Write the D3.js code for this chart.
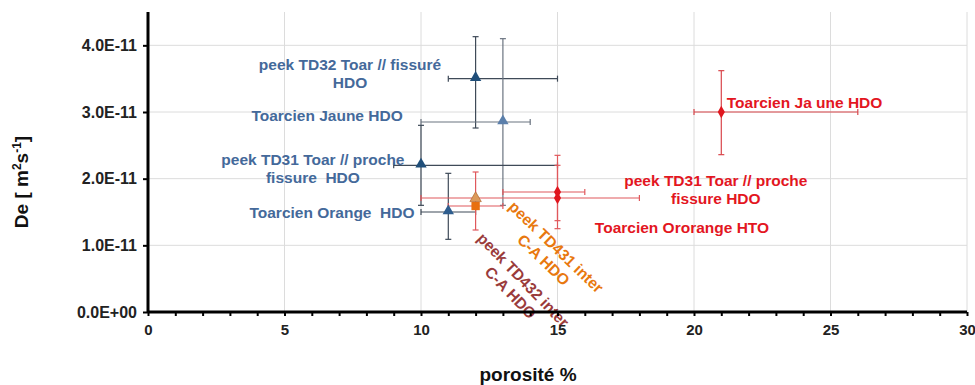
<!DOCTYPE html>
<html>
<head>
<meta charset="utf-8">
<script src="https://cdn.jsdelivr.net/npm/d3@7"></script>
<style>
body{margin:0;background:#fff}
text{font-family:"Liberation Sans",Arial,sans-serif;font-weight:bold;white-space:pre}
</style>
</head>
<body>
<div id="chart"></div>
<script>
// ===== data =====
var names   = ["peek TD32 Toar // fissuré HDO","Toarcien Jaune HDO","peek TD31 Toar // proche fissure HDO",
               "Toarcien Orange HDO","Toarcien Ja une HDO","peek TD31 Toar // proche fissure HDO (rouge)",
               "Toarcien Ororange HTO","peek TD431 inter C-A HDO","peek TD432 inter C-A HDO"];
var poro    = [12, 13, 10, 11, 21, 15, 15, 12, 12];
var poroLo  = [11, 10, 9, 10, 20, 13, 10, 11, null];
var poroHi  = [15, 14, 15, 12, 26, 16, 18, 13, null];
var de      = [3.5e-11, 2.85e-11, 2.2e-11, 1.5e-11, 3.0e-11, 1.8e-11, 1.71e-11, 1.59e-11, 1.69e-11];
var deLo    = [2.76e-11, 1.6e-11, 1.6e-11, 1.09e-11, 2.36e-11, 1.25e-11, 1.37e-11, 1.23e-11, null];
var deHi    = [4.13e-11, 4.1e-11, 2.8e-11, 2.08e-11, 3.62e-11, 2.35e-11, 2.2e-11, 2.1e-11, null];
var shapes  = ["tri","tri","tri","tri","diamond","diamond","diamond","square","tri"];
var fills   = ["#1f4e79","#5b7fab","#1f4e79","#2e5d8e","#e0161e","#e0161e","#e0161e","#e8700e","#dc9a5a"];
var barCols = ["#3f4a58","#6b7480","#3f4a58","#3f4a58","#d9464b","#e0585c","#e0585c","#e0585c",null];

var xTicks = [0,5,10,15,20,25,30];
var yTicks = [0,1e-11,2e-11,3e-11,4e-11];

// labels anchored in data units
var labelLines = [["peek TD32 Toar // fissuré","HDO"],["Toarcien Jaune HDO"],["peek TD31 Toar // proche","fissure  HDO"],
                  ["Toarcien Orange  HDO"],["Toarcien Ja une HDO"],["peek TD31 Toar // proche","fissure HDO"],
                  ["Toarcien Ororange HTO"],["peek TD431 inter","C-A HDO"],["peek TD432 inter","C-A HDO"]];
var labelX  = [7.4, 6.56, 6.04, 6.74, 21.2, 20.8, 19.56, 14.95, 13.75];
var labelY  = [3.71e-11, 2.94e-11, 2.28e-11, 1.485e-11, 3.14e-11, 1.965e-11, 1.26e-11, 0.975e-11, 0.48e-11];
var labelRot = [0,0,0,0,0,0,0,44,46];
var labelAnchor = ["middle","middle","middle","middle","start","middle","middle","middle","middle"];
var labelCols = ["#44699a","#44699a","#44699a","#44699a","#e3161f","#e3161f","#e3161f","#e8780f","#9a3b3b"];

// ===== chart =====
var W = 975, H = 385;
var mLeft = 148, mRight = 967, mTop = 12, mBottom = 312;

var svg = d3.select("#chart").append("svg")
    .attr("width", W)
    .attr("height", H)

var x = d3.scaleLinear().domain([0,30]).range([mLeft,mRight])
var y = d3.scaleLinear().domain([0,4.5e-11]).range([mBottom,mTop])

// grid
svg.append("g").selectAll("line").data(yTicks.slice(1)).join("line")
    .attr("x1", mLeft).attr("x2", mRight)
    .attr("y1", function(d){return y(d)}).attr("y2", function(d){return y(d)})
    .attr("stroke", "#dcdcdc").attr("stroke-width", 1)
svg.append("g").selectAll("line").data(xTicks.slice(1)).join("line")
    .attr("x1", function(d){return x(d)}).attr("x2", function(d){return x(d)})
    .attr("y1", mTop).attr("y2", mBottom)
    .attr("stroke", "#dcdcdc").attr("stroke-width", 1)

// error bars
var cap = 3;
var idx = d3.range(names.length);
var bars = svg.append("g")
idx.forEach(function(i){
    if (barCols[i] == null) return;
    var g = bars.append("g").attr("stroke", barCols[i]).attr("stroke-width", 1.2)
    if (poroLo[i] != null) {
        g.append("line").attr("x1", x(poroLo[i])).attr("x2", x(poroHi[i]))
            .attr("y1", y(de[i])).attr("y2", y(de[i]))
        ;[poroLo[i], poroHi[i]].forEach(function(v){
            g.append("line").attr("x1", x(v)).attr("x2", x(v))
                .attr("y1", y(de[i]) - cap).attr("y2", y(de[i]) + cap)
        })
    }
    if (deLo[i] != null) {
        g.append("line").attr("x1", x(poro[i])).attr("x2", x(poro[i]))
            .attr("y1", y(deLo[i])).attr("y2", y(deHi[i]))
        ;[deLo[i], deHi[i]].forEach(function(v){
            g.append("line").attr("x1", x(poro[i]) - cap).attr("x2", x(poro[i]) + cap)
                .attr("y1", y(v)).attr("y2", y(v))
        })
    }
})

// markers
var symType = {tri: d3.symbolTriangle, diamond: d3.symbolDiamond, square: d3.symbolSquare}
var symSize = {tri: 56, diamond: 44, square: 70}
svg.append("g").selectAll("path").data(idx).join("path")
    .attr("d", function(i){return d3.symbol().type(symType[shapes[i]]).size(symSize[shapes[i]])()})
    .attr("transform", function(i){
        var dy = shapes[i] == "tri" ? -1 : 0;
        return "translate(" + x(poro[i]) + "," + (y(de[i]) + dy) + ")"
    })
    .attr("fill", function(i){return fills[i]})
    .attr("stroke", function(i){return i == 8 ? "#b8703a" : "none"})
    .attr("stroke-width", 0.8)

// labels
var lab = svg.append("g")
idx.forEach(function(i){
    var t = lab.append("text")
        .attr("transform", "translate(" + x(labelX[i]) + "," + y(labelY[i]) + ") rotate(" + labelRot[i] + ")")
        .attr("text-anchor", labelAnchor[i])
        .attr("fill", labelCols[i])
        .attr("font-size", "15.5px")
    labelLines[i].forEach(function(s, k){
        t.append("tspan").attr("x", 0).attr("y", k * 18).attr("dy", "0.35em").text(s)
    })
})

// axes
function sci(d){
    if (d === 0) return "0.0E+00";
    var s = d.toExponential(1).toUpperCase();
    return s.replace(/E([+-])(\d)$/, "E$10$2");
}
var yAxis = svg.append("g")
    .attr("transform", "translate(" + mLeft + ",0)")
    .call(d3.axisLeft(y).tickValues(yTicks).tickFormat(sci).tickSize(5).tickPadding(6))
yAxis.select(".domain").attr("stroke-width", 3).attr("d", "M0," + mTop + "V" + mBottom)
yAxis.selectAll(".tick line").attr("stroke-width", 2)
yAxis.selectAll("text").attr("font-size", "16px").attr("fill", "#222")

var xAxis = svg.append("g")
    .attr("transform", "translate(0," + mBottom + ")")
    .call(d3.axisBottom(x).ticks(30).tickFormat(function(d){return d % 5 == 0 ? d : ""}).tickSize(4).tickPadding(8))
xAxis.select(".domain").attr("stroke-width", 3).attr("d", "M" + mLeft + ",0H" + mRight)
xAxis.selectAll(".tick line").attr("stroke-width", 2)
xAxis.selectAll("text").attr("font-size", "15px").attr("fill", "#222")

// axis titles
var yt = svg.append("text")
    .attr("transform", "translate(28,182) rotate(-90)")
    .attr("text-anchor", "middle")
    .attr("font-size", "19px")
    .attr("fill", "#111")
yt.append("tspan").text("De [ m")
yt.append("tspan").attr("font-size", "12px").attr("dy", "-7").text("2")
yt.append("tspan").attr("dy", "7").text("s")
yt.append("tspan").attr("font-size", "12px").attr("dy", "-7").text("-1")
yt.append("tspan").attr("dy", "7").text("]")

svg.append("text")
    .attr("x", 528).attr("y", 381)
    .attr("text-anchor", "middle")
    .attr("font-size", "19px")
    .attr("fill", "#111")
    .text("porosité %")
</script>
</body>
</html>
